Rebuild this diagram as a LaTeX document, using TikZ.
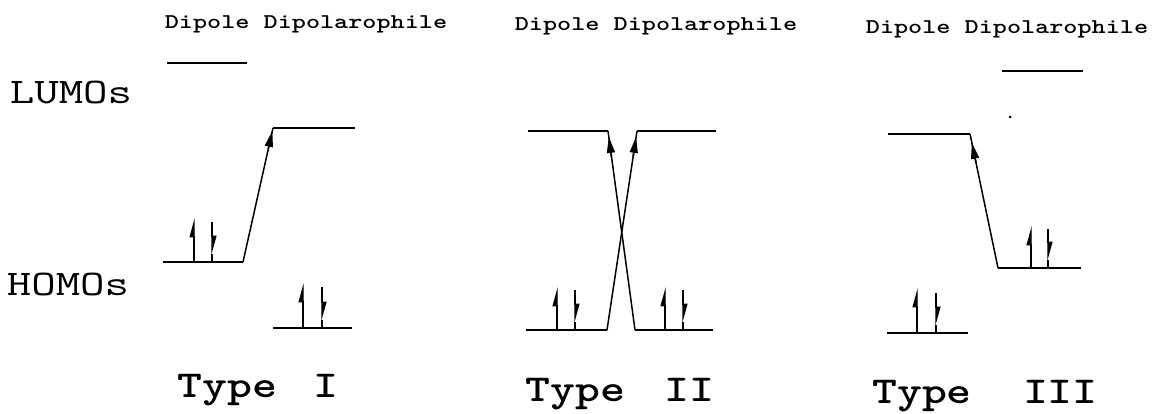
\documentclass[tikz,border=0pt]{standalone}
\usepackage{fontspec}
\usepackage{graphicx}
\usetikzlibrary{arrows.meta,calc}
\newcommand\widetxt[2]{\scalebox{#1}[1]{#2}}
\tikzset{
  level/.style={line width=1.6pt},
  trans/.style={line width=1.5pt},
  transhead/.style={line width=1.5pt,-{Triangle[length=16pt,width=8pt]}},
  spinline/.style={line width=1.3pt},
  spinhead/.style={line width=1.3pt,-{Triangle[harpoon,length=17pt,width=9pt]}},
  hdr/.style={font=\ttfamily\bfseries\fontsize{21}{24}\selectfont\addfontfeatures{FakeBold=2.5}, inner sep=0pt, anchor=base},
  side/.style={font=\ttfamily\fontsize{36}{40}\selectfont, inner sep=0pt, anchor=base},
  typelab/.style={font=\ttfamily\bfseries\fontsize{38}{44}\selectfont\addfontfeatures{FakeBold=1}, inner sep=0pt, anchor=base},
}
\newcommand\spinpair[5]{% x1 x2 base top1 top2
  \draw[spinhead] (#1,#3) -- (#1,#4);
  \draw[spinhead] (#2,#5) -- (#2,#3-7);
  \draw[spinline] (#2,#3-8) -- (#2,#3);
}
\begin{document}
\begin{tikzpicture}[x=1pt,y=-1pt]
\useasboundingbox (0,0) rectangle (1156,414);

% side labels
\node[side] (lumo) at (71,104) {\widetxt{1.32}{LUMOs}};
\node[side] (homo) at (68,295) {\widetxt{1.32}{HOMOs}};

% headers
\node[hdr] (h1) at (306,29) {\widetxt{1.28}{Dipole Dipolarophile}};
\node[hdr] (h2) at (656,31) {\widetxt{1.28}{Dipole Dipolarophile}};
\node[hdr] (h3) at (1007,34) {\widetxt{1.28}{Dipole Dipolarophile}};

% ---------- Type I ----------
\coordinate (AdLa) at (167,63);  \coordinate (AdLb) at (247,63);
\coordinate (ApLa) at (273,128); \coordinate (ApLb) at (355,128);
\coordinate (AdHa) at (163,262); \coordinate (AdHb) at (243,262);
\coordinate (ApHa) at (273,328); \coordinate (ApHb) at (352,328);
\draw[level] (AdLa) -- (AdLb);
\draw[level] (ApLa) -- (ApLb);
\draw[level] (AdHa) -- (AdHb);
\draw[level] (ApHa) -- (ApHb);
\draw[trans] (AdHb) -- (ApLa);
\draw[transhead] ($(ApLa)!22pt!(AdHb)$) -- ($(ApLa)!3pt!(AdHb)$);
\spinpair{194}{212}{262}{218}{222}
\spinpair{303}{322}{328}{283}{287}
\node[typelab] (t1) at (258,397) {\widetxt{1.25}{Type\hspace{9pt} I}};

% ---------- Type II ----------
\coordinate (BdLa) at (528,131); \coordinate (BdLb) at (608,131);
\coordinate (BpLa) at (637,131); \coordinate (BpLb) at (716,131);
\coordinate (BdHa) at (526,330); \coordinate (BdHb) at (607,330);
\coordinate (BpHa) at (635,330); \coordinate (BpHb) at (713,330);
\draw[level] (BdLa) -- (BdLb);
\draw[level] (BpLa) -- (BpLb);
\draw[level] (BdHa) -- (BdHb);
\draw[level] (BpHa) -- (BpHb);
\draw[trans] (BdHb) -- (BpLa);
\draw[trans] (BpHa) -- (BdLb);
\draw[transhead] ($(BpLa)!26pt!(BdHb)$) -- ($(BpLa)!6pt!(BdHb)$);
\draw[transhead] ($(BdLb)!26pt!(BpHa)$) -- ($(BdLb)!6pt!(BpHa)$);
\spinpair{557}{575}{330}{287}{290}
\spinpair{665}{683}{330}{287}{290}
\node[typelab] (t2) at (620,401) {\widetxt{1.25}{Type\hspace{11pt} II}};

% ---------- Type III ----------
\coordinate (CpLa) at (1002,71); \coordinate (CpLb) at (1083,71);
\coordinate (CdLa) at (888,134); \coordinate (CdLb) at (970,134);
\coordinate (CpHa) at (998,268); \coordinate (CpHb) at (1081,268);
\coordinate (CdHa) at (887,333); \coordinate (CdHb) at (968,333);
\draw[level] (CpLa) -- (CpLb);
\draw[level] (CdLa) -- (CdLb);
\draw[level] (CpHa) -- (CpHb);
\draw[level] (CdHa) -- (CdHb);
\draw[trans] (CpHa) -- (CdLb);
\draw[transhead] ($(CdLb)!30pt!(CpHa)$) -- ($(CdLb)!9pt!(CpHa)$);
\spinpair{1031}{1048}{268}{226}{229}
\spinpair{917}{936}{333}{288}{293}
\fill (1010,117) circle (1.5pt);
\node[typelab] (t3) at (985,403) {\widetxt{1.25}{Type\hspace{21pt} III}};
\end{tikzpicture}
\end{document}
